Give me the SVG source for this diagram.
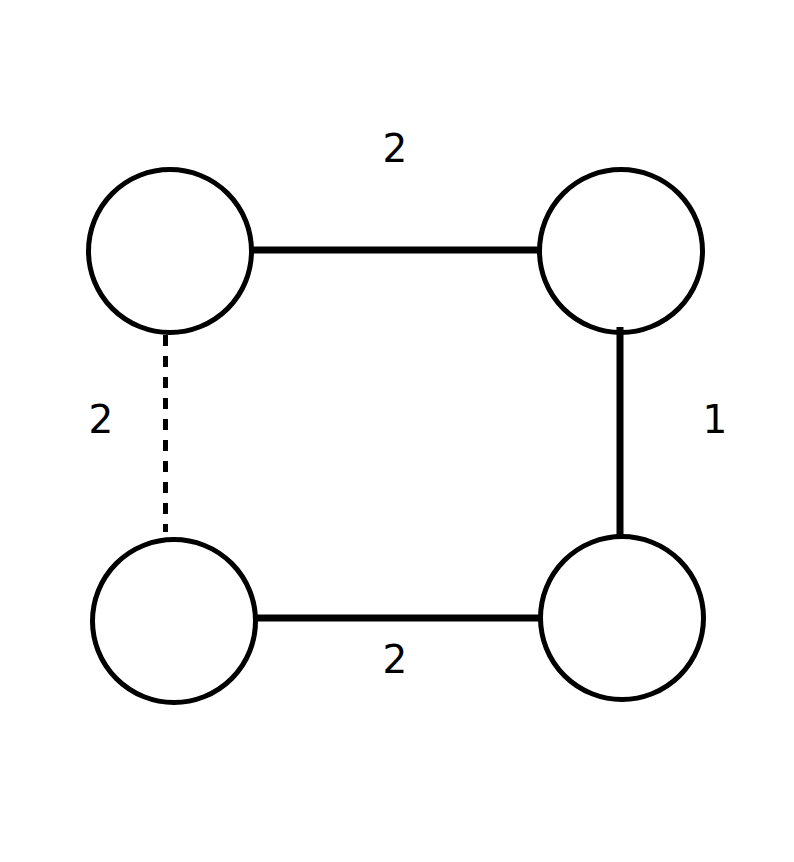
<svg xmlns="http://www.w3.org/2000/svg" width="794" height="862" viewBox="0 0 794 862">
<style>
.node{fill:#fff;stroke:#000;stroke-width:5}
.edge{stroke:#000;stroke-width:7;fill:none}
.dash{stroke:#000;stroke-width:5;fill:none;stroke-dasharray:11 10}
.lbl{font-family:"DejaVu Sans",sans-serif;font-size:39px;fill:#000;text-anchor:middle}
</style>
<rect width="794" height="862" fill="#fff"/>
<g id="n1"><circle class="node" cx="170" cy="251" r="81.5"/></g>
<g id="n2"><circle class="node" cx="621" cy="251" r="81.5"/></g>
<g id="n3"><circle class="node" cx="174" cy="621" r="81.5"/></g>
<g id="n4"><circle class="node" cx="622" cy="618" r="81.5"/></g>
<g id="edges">
<line class="edge" x1="252" y1="250" x2="539" y2="250"/>
<line class="edge" x1="620" y1="327" x2="620" y2="537"/>
<line class="edge" x1="256" y1="618" x2="541" y2="618"/>
<line class="dash" x1="165.5" y1="335" x2="165.5" y2="532"/>
</g>
<g id="labels">
<text class="lbl" x="395" y="162">2</text>
<text class="lbl" x="101" y="433">2</text>
<text class="lbl" x="715" y="433">1</text>
<text class="lbl" x="395" y="673">2</text>
</g>
</svg>
